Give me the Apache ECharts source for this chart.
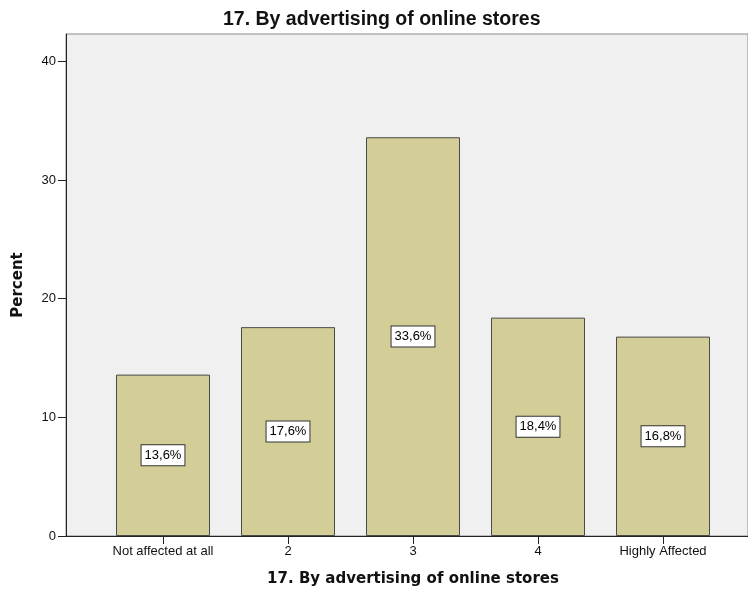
<!DOCTYPE html>
<html>
<head>
<meta charset="utf-8">
<script src="https://cdn.jsdelivr.net/npm/echarts@6/dist/echarts.min.js"></script>
<style>
  html, body { margin: 0; padding: 0; background: #ffffff; }
  #chart { width: 748px; height: 592px; }
</style>
</head>
<body>
<div id="chart"></div>
<script>
// Survey item 17: response categories and percentage of respondents
const chartTitle = '17. By advertising of online stores';
const categories = ['Not affected at all', '2', '3', '4', 'Highly Affected'];
const percents = [13.6, 17.6, 33.6, 18.4, 16.8];
const yTicks = [0, 10, 20, 30, 40];

const yMin = 0, yMax = 42.3, yStep = 10;
const gridTop = 34, gridBottom = 56;

const chart = echarts.init(document.getElementById('chart'), null, { renderer: 'canvas' });

chart.setOption({
  animation: false,
  backgroundColor: '#ffffff',
  title: {
    text: chartTitle,
    left: 218,
    top: 5,
    textStyle: { fontFamily: 'Liberation Sans', fontWeight: 'bold', fontSize: 19.5, color: '#111' }
  },
  grid: [
    // frame with the shaded plot background and the y axis
    { left: 66, top: gridTop, right: -3, bottom: gridBottom, show: true,
      backgroundColor: '#f0f0f0', borderColor: '#8a8a8a', borderWidth: 1 },
    // band area holding the five bars
    { left: 100.5, width: 625, top: gridTop, bottom: gridBottom }
  ],
  xAxis: [
    { gridIndex: 0, type: 'category', data: [''],
      axisLine: { show: true, lineStyle: { color: '#222', width: 1 } },
      axisTick: { show: false }, axisLabel: { show: false }, splitLine: { show: false } },
    { gridIndex: 1, type: 'category', data: categories,
      axisLine: { show: false },
      axisTick: { show: true, interval: 0, alignWithLabel: true, length: 8, lineStyle: { color: '#222' } },
      axisLabel: { interval: 0, fontFamily: 'Liberation Sans', fontSize: 13, color: '#111', margin: 9 },
      name: chartTitle, nameLocation: 'middle', nameGap: 36,
      nameTextStyle: { fontFamily: 'DejaVu Sans', fontWeight: 'bold', fontSize: 15, color: '#111' } }
  ],
  yAxis: [
    { gridIndex: 0, type: 'value', min: yMin, max: yMax, interval: yStep,
      axisLine: { show: true, lineStyle: { color: '#222', width: 1 } },
      axisTick: { show: true, length: 8, customValues: yTicks, lineStyle: { color: '#222' } },
      axisLabel: { fontFamily: 'Liberation Sans', fontSize: 13, color: '#111', margin: 10,
        customValues: yTicks },
      splitLine: { show: false },
      name: 'Percent', nameLocation: 'middle', nameGap: 40,
      nameTextStyle: { fontFamily: 'DejaVu Sans', fontWeight: 'bold', fontSize: 15, color: '#111' } },
    { gridIndex: 1, type: 'value', min: yMin, max: yMax, interval: yStep, show: false,
      splitLine: { show: false } }
  ],
  series: [{
    type: 'bar',
    xAxisIndex: 1,
    yAxisIndex: 1,
    data: percents,
    barWidth: 94,
    itemStyle: { color: '#d3ce97', borderColor: '#4a4a4a', borderWidth: 1 },
    label: {
      show: true,
      position: 'inside',
      formatter: p => p.value.toFixed(1).replace('.', ',') + '%',
      fontFamily: 'Liberation Sans',
      fontSize: 13,
      color: '#000',
      backgroundColor: '#ffffff',
      borderColor: '#333',
      borderWidth: 1,
      padding: [4, 3, 3, 3]
    }
  }]
});
</script>
</body>
</html>
